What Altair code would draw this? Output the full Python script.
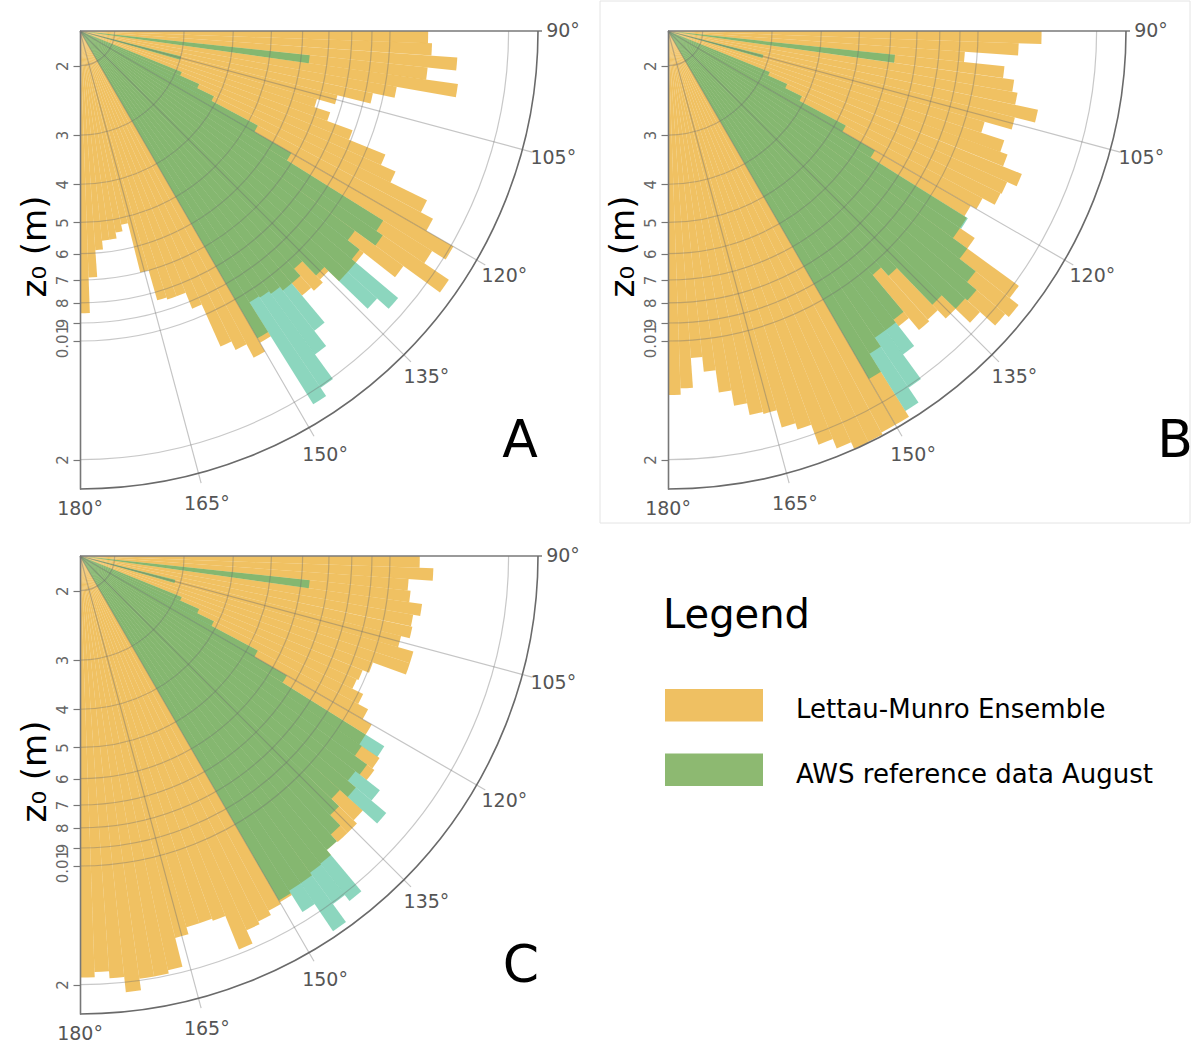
import math
import altair as alt
import pandas as pd

# Wind-direction bins (degrees, 2-degree wide sectors from 90 to 180)
BIN_START = list(range(90, 180, 2))
BIN_WIDTH = 2

# Roughness length z0 per sector, in millimetres (0 = no data)
A_LM_MM = [12.5, 12.8, 14.9, 12.6, 15.2, 10.7, 9.4, 7.7, 6.9, 7.6, 8.9, 11.2, 12.3, 15.6, 16.9,
           20.3, 18.5, 22.0, 16.9, 13.4, 13.4, 13.4, 12.3, 12.6, 12.3, 11.2, 10.9, 10.7, 10.6, 13.4,
           14.2, 13.0, 12.3, 9.4, 8.5, 8.5, 8.4, 7.0, 5.2, 5.4, 5.6, 5.6, 5.9, 6.9, 8.5]
A_AWS_MM = [0, 0, 0, 6.3, 0, 0, 0, 3.0, 0, 0, 0, 3.1, 3.5, 3.9, 5.3,
            6.8, 13.2, 13.8, 11.9, 13.0, 18.5, 16.9, 11.9, 10.6, 11.2, 15.1, 16.9, 20.2, 21.4, 13.0,
            0, 0, 0, 0, 0, 0, 0, 0, 0, 0, 0, 0, 0, 0, 0]

B_LM_MM = [14.5, 12.7, 9.3, 11.8, 12.6, 13.0, 14.9, 13.2, 11.2, 12.9, 13.5, 15.2, 14.3, 14.2, 13.1,
           12.6, 12.8, 14.2, 20.6, 22.0, 21.4, 19.0, 16.9, 15.8, 16.0, 14.6, 14.2, 14.2, 15.1, 23.3,
           23.3, 23.6, 23.7, 22.7, 21.4, 18.9, 18.2, 16.4, 16.2, 15.1, 13.8, 12.1, 11.1, 13.2, 13.7]
B_AWS_MM = [0, 0, 0, 6.2, 0, 0, 0, 2.9, 0, 0, 0, 3.1, 3.5, 3.9, 5.3,
            6.6, 12.9, 12.8, 14.2, 16.0, 17.2, 16.9, 15.1, 11.2, 10.5, 13.9, 16.9, 20.2, 22.4, 17.1,
            0, 0, 0, 0, 0, 0, 0, 0, 0, 0, 0, 0, 0, 0, 0]

C_LM_MM = [11.9, 12.9, 11.2, 11.4, 12.3, 11.8, 11.9, 11.3, 12.4, 12.4, 10.1, 9.7, 9.6, 10.3, 11.0,
           11.7, 11.7, 13.5, 13.7, 12.6, 13.4, 15.1, 15.5, 15.5, 15.4, 16.0, 16.1, 16.4, 16.4, 16.9,
           17.1, 17.6, 17.9, 19.5, 15.8, 15.6, 15.6, 16.3, 19.4, 19.8, 19.8, 21.2, 19.4, 18.6, 19.2]
C_AWS_MM = [0, 0, 0, 6.3, 0, 0, 0, 2.9, 0, 0, 0, 3.1, 3.5, 3.9, 5.3,
            6.6, 13.3, 11.9, 13.0, 15.1, 16.9, 12.6, 13.4, 14.6, 15.4, 21.1, 20.2, 23.0, 19.0, 16.7,
            0, 0, 0, 0, 0, 0, 0, 0, 0, 0, 0, 0, 0, 0, 0]

RADIAL_TICKS = [0.002, 0.003, 0.004, 0.005, 0.006, 0.007, 0.008, 0.009, 0.01, 0.02]
ANGLE_TICKS = [90, 105, 120, 135, 150, 165, 180]
SPOKES = [105, 120, 135, 150, 165]
Z_DOMAIN = [0.001633, 0.02375]

LEGEND_LABELS = ["Lettau-Munro Ensemble", "AWS reference data August"]
LEGEND_COLORS = ["#EFC062", "#8DB971"]

FONT = "DejaVu Sans"
R_PX = 458
ORANGE = "#ECB036"
TEAL = "#19AD7D"
GRID = "#6e6e6e"

theta_scale = alt.Scale(domain=[0, 360], range=[0, 2 * math.pi])
r_scale = alt.Scale(type="log", domain=Z_DOMAIN, range=[0, R_PX])
centre = dict(x=alt.value(0), y=alt.value(0))

label_expr = ("datum.value < 0.0095 ? format(datum.value * 1000, '.0f') : "
              "(datum.value < 0.015 ? '0.01' : format(datum.value * 100, '.0f'))")


def anchor(x0, y0):
    """Invisible 1px box that pins the outer bounds of the figure."""
    return alt.Chart(pd.DataFrame({"k": [0]})).mark_rect(fill="transparent").encode(
        x=alt.value(x0), x2=alt.value(x0 + 1), y=alt.value(y0), y2=alt.value(y0 + 1))


def polar_panel(letter, lm_mm, aws_mm, letter_x, framed=False, extra=None):
    bars = pd.DataFrame({
        "start": BIN_START,
        "end": [b + BIN_WIDTH for b in BIN_START],
        "lm": [v / 1000 for v in lm_mm],
        "aws": [v / 1000 for v in aws_mm],
    })
    ticks = pd.DataFrame({"z": RADIAL_TICKS})

    lm = alt.Chart(bars).transform_filter("datum.lm > 0").mark_arc(
        fill=ORANGE, fillOpacity=0.78).encode(
        **centre,
        theta=alt.Theta("start:Q", scale=theta_scale), theta2="end:Q",
        radius=alt.Radius("lm:Q", scale=r_scale),
    )
    aws = alt.Chart(bars).transform_filter("datum.aws > 0").mark_arc(
        fill=TEAL, fillOpacity=0.5).encode(
        **centre,
        theta=alt.Theta("start:Q", scale=theta_scale), theta2="end:Q",
        radius=alt.Radius("aws:Q", scale=r_scale),
    )
    # translucent grid over the bars: light grey on white, darker across the sectors
    circles = alt.Chart(ticks).mark_arc(
        filled=False, stroke=GRID, strokeOpacity=0.38, strokeWidth=1.2).encode(
        **centre,
        theta=alt.value(math.pi / 2), theta2=alt.value(math.pi),
        radius=alt.Radius("z:Q", scale=r_scale), radius2="z:Q",
    )
    spokes = alt.Chart(pd.DataFrame({"deg": SPOKES})).mark_arc(
        filled=False, stroke=GRID, strokeOpacity=0.4, strokeWidth=1.2).encode(
        **centre,
        theta=alt.Theta("deg:Q", scale=theta_scale), theta2="deg:Q",
        radius=alt.value(R_PX + 10), radius2=alt.value(0),
    )
    top_edge = alt.Chart(pd.DataFrame({"deg": [90]})).mark_arc(
        filled=False, stroke="#7a7a7a", strokeWidth=1.6).encode(
        **centre,
        theta=alt.Theta("deg:Q", scale=theta_scale), theta2="deg:Q",
        radius=alt.value(R_PX + 4), radius2=alt.value(0),
    )
    outer = alt.Chart(pd.DataFrame({"deg": [90]})).mark_arc(
        filled=False, stroke="#6a6a6a", strokeWidth=1.6).encode(
        **centre,
        theta=alt.value(math.pi / 2), theta2=alt.value(math.pi),
        radius=alt.value(R_PX), radius2=alt.value(R_PX),
    )
    axis_layer = alt.Chart(ticks).mark_point(opacity=0).encode(
        x=alt.value(0),
        y=alt.Y("z:Q",
                scale=alt.Scale(type="log", domain=Z_DOMAIN, reverse=True),
                axis=alt.Axis(values=RADIAL_TICKS, labelExpr=label_expr, labelAngle=270,
                              labelAlign="center", labelBaseline="bottom",
                              labelFont=FONT, labelFontSize=15, labelColor="#666",
                              labelPadding=3, labelOverlap=False, labelFlush=False,
                              tickColor="#777", tickSize=7, tickWidth=1.2,
                              domainColor="#777", domainWidth=1.6, grid=False,
                              title="z₀ (m)", titleFont=FONT, titleFontSize=34,
                              titleFontWeight="normal", titleColor="#000",
                              titleAngle=270, titleAlign="center", titleBaseline="middle",
                              titleX=-45, titleY=215, zindex=1)),
    )
    angle_df = pd.DataFrame({"deg": ANGLE_TICKS, "label": [f"{a}°" for a in ANGLE_TICKS]})
    angle_labels = alt.Chart(angle_df).transform_calculate(
        lr=f"datum.deg == 180 ? {R_PX + 20} : (datum.deg == 90 ? {R_PX + 25} : {R_PX + 32})"
    ).mark_text(
        font=FONT, fontSize=19, color="#555", align="center", baseline="middle").encode(
        **centre,
        theta=alt.Theta("deg:Q", scale=theta_scale),
        radius=alt.Radius("lr:Q", scale=None),
        text="label:N",
    )
    tag = alt.Chart(pd.DataFrame({"panel": [letter]})).mark_text(
        font=FONT, fontSize=52, color="#000", align="center", baseline="middle").encode(
        x=alt.value(letter_x), y=alt.value(410), text="panel:N")

    layers = [lm, aws, circles, spokes, top_edge, outer, axis_layer, angle_labels, tag]
    if framed:
        frame = alt.Chart(pd.DataFrame({"panel": [letter]})).mark_rect(
            fill="transparent", stroke="#e4e4e4", strokeWidth=1).encode(
            x=alt.value(-68), x2=alt.value(522), y=alt.value(-30), y2=alt.value(492))
        layers = [frame] + layers
    if extra is not None:
        layers.append(extra)
    return alt.layer(*layers).properties(width=R_PX, height=R_PX)


panel_a = polar_panel("A", A_LM_MM, A_AWS_MM, 440, extra=anchor(-80, -30))
panel_b = polar_panel("B", B_LM_MM, B_AWS_MM, 507, framed=True)
panel_c = polar_panel("C", C_LM_MM, C_AWS_MM, 441)

legend_df = pd.DataFrame({"label": LEGEND_LABELS, "color": LEGEND_COLORS})
legend_y = alt.Y("label:N",
                 scale=alt.Scale(type="band", domain=LEGEND_LABELS, range=[133, 230],
                                 paddingInner=0.496, paddingOuter=0),
                 axis=None)
swatches = alt.Chart(legend_df).mark_rect().encode(
    x=alt.value(-3), x2=alt.value(95), y=legend_y,
    color=alt.Color("color:N", scale=None))
swatch_text = alt.Chart(legend_df).mark_text(
    font=FONT, fontSize=26, align="left", baseline="middle", color="#000", dy=5).encode(
    x=alt.value(128), y=legend_y, text="label:N")
heading = alt.Chart(pd.DataFrame({"title": ["Legend"]})).mark_text(
    font=FONT, fontSize=40, align="left", baseline="middle", color="#000").encode(
    x=alt.value(-5), y=alt.value(60), text="title:N")
legend_panel = alt.layer(swatches, swatch_text, heading, anchor(530, 487)).properties(
    width=R_PX, height=R_PX)

chart = alt.concat(
    panel_a, panel_b, panel_c, legend_panel,
    columns=2, spacing={"row": 67, "column": 130}, bounds="flush",
).properties(
    padding=0,
    autosize=alt.AutoSizeParams(type="pad"),
    background="#ffffff",
).configure_view(strokeWidth=0)

chart.save("out.html", embed_options={"renderer": "svg", "actions": False})
